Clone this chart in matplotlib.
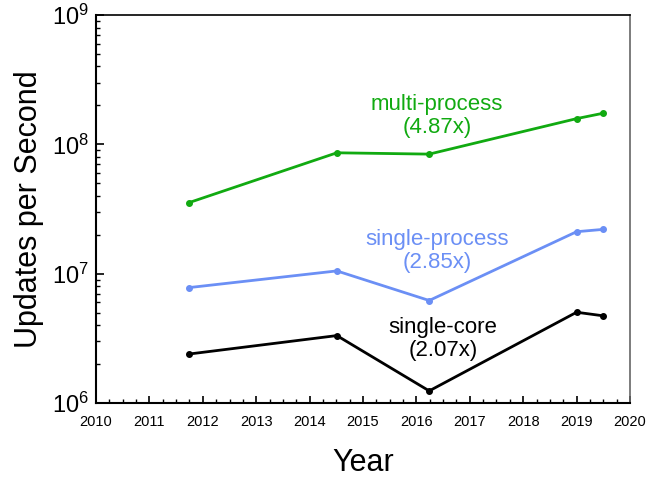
import numpy as np
import matplotlib.pyplot as plt
from matplotlib.ticker import MultipleLocator, LogLocator, NullFormatter

plt.rcParams['font.family'] = ['Liberation Sans', 'DejaVu Sans']
plt.rcParams['mathtext.default'] = 'regular'

# data
years = [2011.74, 2014.51, 2016.24, 2019.0, 2019.5]
multi_process = [3.54e7, 8.6e7, 8.4e7, 1.58e8, 1.74e8]
single_process = [7.8e6, 1.05e7, 6.2e6, 2.11e7, 2.2e7]
single_core = [2.39e6, 3.32e6, 1.24e6, 5.03e6, 4.72e6]

fig = plt.figure(figsize=(6.47, 4.79), dpi=100)
ax = fig.add_axes([0.1484, 0.1587, 0.8253, 0.81])

ax.plot(years, multi_process, '-o', color='#11aa11', lw=2, ms=4)
ax.plot(years, single_process, '-o', color='#6b8ff5', lw=2, ms=4)
ax.plot(years, single_core, '-o', color='black', lw=2, ms=4)

ax.text(2016.39, 1.66e8, 'multi-process\n(4.87x)', color='#11aa11', fontsize=16,
        ha='center', va='center', linespacing=1.1)
ax.text(2016.39, 1.5e7, 'single-process\n(2.85x)', color='#6b8ff5', fontsize=16,
        ha='center', va='center', linespacing=1.1)
ax.text(2016.5, 3.13e6, 'single-core\n(2.07x)', color='black', fontsize=16,
        ha='center', va='center', linespacing=1.1)

ax.set_yscale('log')
ax.set_xlim(2010, 2020)
ax.set_ylim(1e6, 1e9)

ax.xaxis.set_major_locator(MultipleLocator(1))
ax.xaxis.set_minor_locator(MultipleLocator(0.25))
ax.yaxis.set_major_locator(LogLocator(base=10, numticks=10))
ax.yaxis.set_minor_locator(LogLocator(base=10, subs=np.arange(2, 10), numticks=10))
ax.yaxis.set_minor_formatter(NullFormatter())

ax.tick_params(axis='x', which='major', direction='in', length=5, width=1.2, labelsize=10.5, pad=9)
ax.tick_params(axis='x', which='minor', direction='in', length=3, width=1)
ax.tick_params(axis='y', which='major', direction='in', length=6, width=1.2, labelsize=17, pad=5)
ax.tick_params(axis='y', which='minor', direction='in', length=3, width=1)

for s in ['left', 'bottom']:
    ax.spines[s].set_linewidth(1.5)
ax.spines['top'].set_linewidth(1.2)
ax.spines['right'].set_linewidth(1.2)
ax.spines['right'].set_color('#666666')

ax.set_xlabel('Year', fontsize=22, labelpad=13)
ax.set_ylabel('Updates per Second', fontsize=22, labelpad=6)

fig.savefig('out.png', dpi=100)
